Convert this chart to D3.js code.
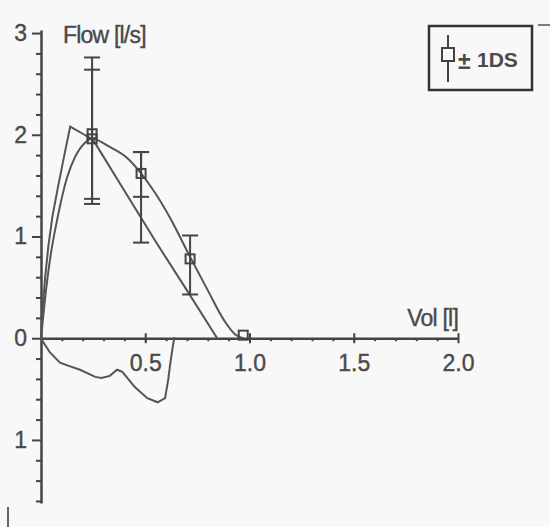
<!DOCTYPE html>
<html lang="en">
<head>
<meta charset="UTF-8">
<title>Flow-volume loop</title>
<style>
  body { margin: 0; background: #f8f8f8; }
  svg { display: block; }
  text { font-family: "Liberation Sans", Arial, sans-serif; fill: #4a4a4a; }
</style>
</head>
<body>
<script src="https://cdn.jsdelivr.net/npm/d3@7"></script>
<script>
// measured loop, expiration part (above the volume axis)
const expVol  = [0, 0.008, 0.02, 0.035, 0.055, 0.08, 0.11, 0.14, 0.2, 0.25, 0.4, 0.55, 0.7, 0.845];
const expFlow = [0, 0.3, 0.6, 0.9, 1.2, 1.47, 1.78, 2.08, 2.01, 1.95, 1.45, 0.95, 0.47, 0];

// measured loop, inspiration part (drawn below the axis)
const inspVol  = [0, 0.005, 0.043, 0.091, 0.13, 0.187, 0.26, 0.29, 0.33, 0.365, 0.39, 0.45, 0.51, 0.56, 0.595, 0.61, 0.62, 0.633, 0.64];
const inspFlow = [0, -0.02, -0.14, -0.24, -0.27, -0.31, -0.38, -0.39, -0.37, -0.31, -0.33, -0.48, -0.59, -0.63, -0.59, -0.41, -0.25, -0.07, 0.01];

// predicted curve
const predVol  = [0, 0.02, 0.045, 0.077, 0.125, 0.163, 0.21, 0.245, 0.33, 0.42, 0.48, 0.55, 0.62, 0.715, 0.8, 0.88, 0.93, 0.97];
const predFlow = [0, 0.4, 0.8, 1.16, 1.58, 1.78, 1.92, 1.96, 1.88, 1.76, 1.62, 1.42, 1.18, 0.8, 0.47, 0.17, 0.04, 0];

// predicted points (squares)
const sqVol  = [0.245, 0.245, 0.48, 0.715, 0.97];
const sqFlow = [1.96, 2.01, 1.62, 0.78, 0.03];

// +/- 1 SD bars
const barVol  = [0.245, 0.245, 0.48, 0.48, 0.715];
const barLow  = [1.37, 1.32, 1.39, 0.94, 0.43];
const barHigh = [2.64, 2.76, 1.83, 1.83, 1.01];

const flowTicks = [-1, 0, 1, 2, 3];
const volTicks = [0.5, 1.0, 1.5, 2.0];

const w = 550, h = 527;
const ink = '#444';
const labelFont = '"Liberation Sans", Arial, sans-serif';

const svg = d3.select('body').append('svg')
    .attr('width', w)
    .attr('height', h);

svg.append('rect').attr('width', w).attr('height', h).attr('fill', '#f8f8f8');

const x = d3.scaleLinear().domain([0, 2]).range([41, 458]);
const y = d3.scaleLinear().domain([-1.62, 3.03]).range([503, 30]);

// heavier grey text, like the scanned print
const styleText = sel => sel
    .attr('font-size', 23)
    .attr('font-family', labelFont)
    .attr('fill', '#4a4a4a')
    .attr('stroke', '#4a4a4a')
    .attr('stroke-width', 0.4);

// y axis: minor ticks every 0.2, major at integers
const yMinor = d3.range(-1.6, 3.01, 0.2).map(v => +v.toFixed(1)).filter(v => Math.abs(v % 1) > 0.01);
svg.append('g')
    .attr('transform', `translate(${x(0)},0)`)
    .call(d3.axisLeft(y).tickValues(yMinor).tickSize(5).tickFormat(''))
    .call(g => g.select('.domain').remove())
    .call(g => g.selectAll('line').attr('stroke', ink).attr('stroke-width', 2));

const yAxis = svg.append('g')
    .attr('transform', `translate(${x(0)},0)`)
    .call(d3.axisLeft(y).tickValues(flowTicks).tickSizeInner(9).tickSizeOuter(0)
        .tickPadding(5).tickFormat(d => Math.abs(d)));
yAxis.select('.domain').attr('stroke', ink).attr('stroke-width', 2.5);
yAxis.selectAll('line').attr('stroke', ink).attr('stroke-width', 2);
yAxis.selectAll('text').call(styleText);

// x axis
svg.append('g')
    .attr('transform', `translate(0,${y(0)})`)
    .call(d3.axisBottom(x).tickValues(d3.range(0.1, 2.0, 0.1)).tickSize(3).tickFormat(''))
    .call(g => g.select('.domain').remove())
    .call(g => g.selectAll('line').attr('stroke', ink).attr('stroke-width', 2));

const xAxis = svg.append('g')
    .attr('transform', `translate(0,${y(0)})`)
    .call(d3.axisBottom(x).tickValues(volTicks).tickSizeInner(5).tickSizeOuter(0)
        .tickPadding(11).tickFormat(d3.format('.1f')));
xAxis.select('.domain').attr('stroke', ink).attr('stroke-width', 2.5);
xAxis.selectAll('line').attr('y1', -5).attr('stroke', ink).attr('stroke-width', 2);
xAxis.selectAll('text').call(styleText);

// axis titles
svg.append('text').attr('x', 63).attr('y', 43)
    .attr('letter-spacing', -0.8).text('Flow [l/s]').call(styleText);
svg.append('text').attr('x', 458).attr('y', 326)
    .attr('letter-spacing', -0.8).attr('text-anchor', 'end').text('Vol [l]').call(styleText);

// curves
const line = d3.line().x(d => x(d[0])).y(d => y(d[1]));
const curve = (vs, fs) => vs.map((v, i) => [v, fs[i]]);

svg.append('path').datum(curve(expVol, expFlow))
    .attr('d', line).attr('fill', 'none').attr('stroke', '#555').attr('stroke-width', 2);
svg.append('path').datum(curve(inspVol, inspFlow))
    .attr('d', line).attr('fill', 'none').attr('stroke', '#555').attr('stroke-width', 2);
svg.append('path').datum(curve(predVol, predFlow))
    .attr('d', d3.line().x(d => x(d[0])).y(d => y(d[1])).curve(d3.curveMonotoneX))
    .attr('fill', 'none').attr('stroke', '#555').attr('stroke-width', 2);

// SD bars
const bars = svg.append('g').attr('stroke', ink).attr('stroke-width', 2);
barVol.forEach((v, i) => {
    bars.append('line').attr('x1', x(v)).attr('x2', x(v)).attr('y1', y(barLow[i])).attr('y2', y(barHigh[i]));
    [barLow[i], barHigh[i]].forEach(f => {
        bars.append('line').attr('x1', x(v) - 8).attr('x2', x(v) + 8).attr('y1', y(f)).attr('y2', y(f));
    });
});

// predicted squares
svg.selectAll('.sq')
    .data(curve(sqVol, sqFlow))
    .enter()
    .append('rect')
    .attr('class', 'sq')
    .attr('x', d => x(d[0]) - 4.5)
    .attr('y', d => y(d[1]) - 4.5)
    .attr('width', 9)
    .attr('height', 9)
    .attr('fill', 'none')
    .attr('stroke', ink)
    .attr('stroke-width', 2);

// legend
const legend = svg.append('g').attr('transform', 'translate(428,25)');
legend.append('rect').attr('x', 1).attr('y', 1).attr('width', 103).attr('height', 64)
    .attr('fill', '#f8f8f8').attr('stroke', '#333').attr('stroke-width', 2.5);
legend.append('line').attr('x1', 20).attr('x2', 20).attr('y1', 10).attr('y2', 57)
    .attr('stroke', ink).attr('stroke-width', 2);
legend.append('rect').attr('x', 14).attr('y', 23).attr('width', 12).attr('height', 13)
    .attr('fill', '#f8f8f8').attr('stroke', ink).attr('stroke-width', 2);
legend.append('text').attr('x', 30).attr('y', 44).attr('font-size', 23)
    .attr('font-weight', 'bold').text('±');
legend.append('text').attr('x', 49).attr('y', 42).attr('font-size', 21)
    .attr('font-weight', 'bold').text('1DS');

// scan marks at the edges of the picture
svg.append('line').attr('x1', 538).attr('x2', 550).attr('y1', 25).attr('y2', 25)
    .attr('stroke', '#555').attr('stroke-width', 1.5);
svg.append('line').attr('x1', 8).attr('x2', 8).attr('y1', 507).attr('y2', 527)
    .attr('stroke', '#333').attr('stroke-width', 1.5);
</script>
</body>
</html>
